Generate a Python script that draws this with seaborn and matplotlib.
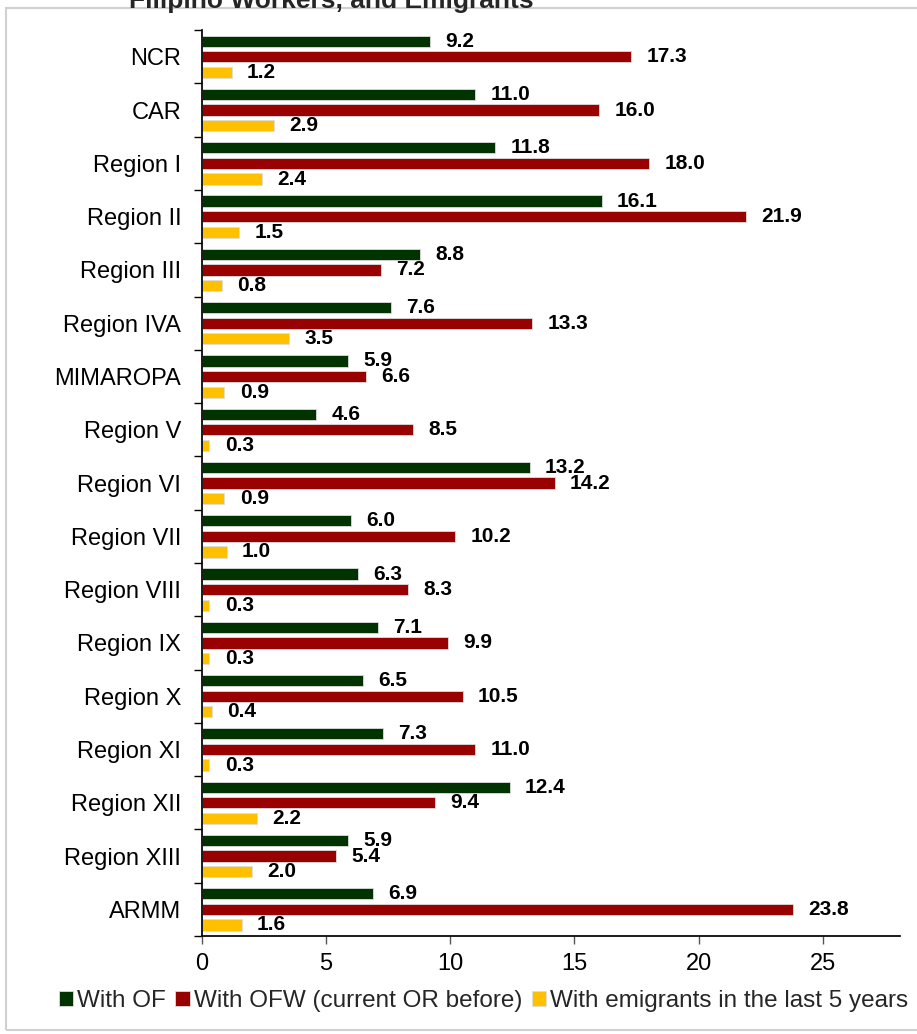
import pandas as pd
import seaborn as sns
import matplotlib.pyplot as plt
from matplotlib.patches import Rectangle
from matplotlib.ticker import FixedLocator

sns.set_theme(style="white")
plt.rcParams["font.family"] = ["Liberation Sans", "DejaVu Sans"]

regions = ["NCR", "CAR", "Region I", "Region II", "Region III", "Region IVA",
           "MIMAROPA", "Region V", "Region VI", "Region VII", "Region VIII",
           "Region IX", "Region X", "Region XI", "Region XII", "Region XIII", "ARMM"]
with_of = [9.2, 11.0, 11.8, 16.1, 8.8, 7.6, 5.9, 4.6, 13.2, 6.0, 6.3, 7.1, 6.5, 7.3, 12.4, 5.9, 6.9]
with_ofw = [17.3, 16.0, 18.0, 21.9, 7.2, 13.3, 6.6, 8.5, 14.2, 10.2, 8.3, 9.9, 10.5, 11.0, 9.4, 5.4, 23.8]
with_emig = [1.2, 2.9, 2.4, 1.5, 0.8, 3.5, 0.9, 0.3, 0.9, 1.0, 0.3, 0.3, 0.4, 0.3, 2.2, 2.0, 1.6]
series = ["With OF", "With OFW (current OR before)", "With emigrants in the last 5 years"]
colors = ["#003300", "#990000", "#FFC000"]

df = pd.DataFrame({
    "Region": regions * 3,
    "Value": with_of + with_ofw + with_emig,
    "Series": [series[0]] * 17 + [series[1]] * 17 + [series[2]] * 17,
})

fig = plt.figure(figsize=(9.17, 10.34), dpi=100)
ax = fig.add_axes([0.2203, 0.0948, 0.7607, 0.876])

sns.barplot(data=df, x="Value", y="Region", hue="Series", order=regions,
            hue_order=series, palette=colors, saturation=1, orient="h",
            width=0.88, gap=0.28, edgecolor="#dddddd", linewidth=0.6, ax=ax,
            legend=True)

for cont in ax.containers:
    ax.bar_label(cont, fmt="%.1f", padding=11, fontsize=15, fontweight="bold",
                 color="black")

ax.set_xlim(0, 28.1)
ax.set_ylim(16.5, -0.5)
ax.set_xticks([0, 5, 10, 15, 20, 25])
ax.tick_params(axis="x", labelsize=17, length=6, width=1, direction="out",
               color="#555555", pad=6, bottom=True, labelcolor="black")
ax.tick_params(axis="y", which="major", length=0, labelsize=17, pad=15,
               labelcolor="black")
ax.yaxis.set_minor_locator(FixedLocator([i - 0.5 for i in range(18)]))
ax.tick_params(axis="y", which="minor", length=6, width=1, color="black", left=True)
ax.set_xlabel("")
ax.set_ylabel("")
for side in ["top", "right"]:
    ax.spines[side].set_visible(False)
ax.spines["left"].set_color("black")
ax.spines["bottom"].set_color("black")

handles, labels = ax.get_legend_handles_labels()
ax.legend_.remove()
fig.legend(handles, labels, loc="center", bbox_to_anchor=(0.527, 0.032), ncol=3,
           frameon=False, fontsize=17.5, handlelength=0.6, handleheight=0.6,
           handletextpad=0.15, columnspacing=0.4)

fig.patches.append(Rectangle((0.006, 0.004), 1.2, 0.988, transform=fig.transFigure,
                             fill=False, edgecolor="#d0d0d0", linewidth=1.5))
fig.text(0.141, 0.999, "Filipino Workers, and Emigrants", fontsize=19,
         fontweight="bold", va="center", ha="left")

fig.savefig("out.png", dpi=100)
